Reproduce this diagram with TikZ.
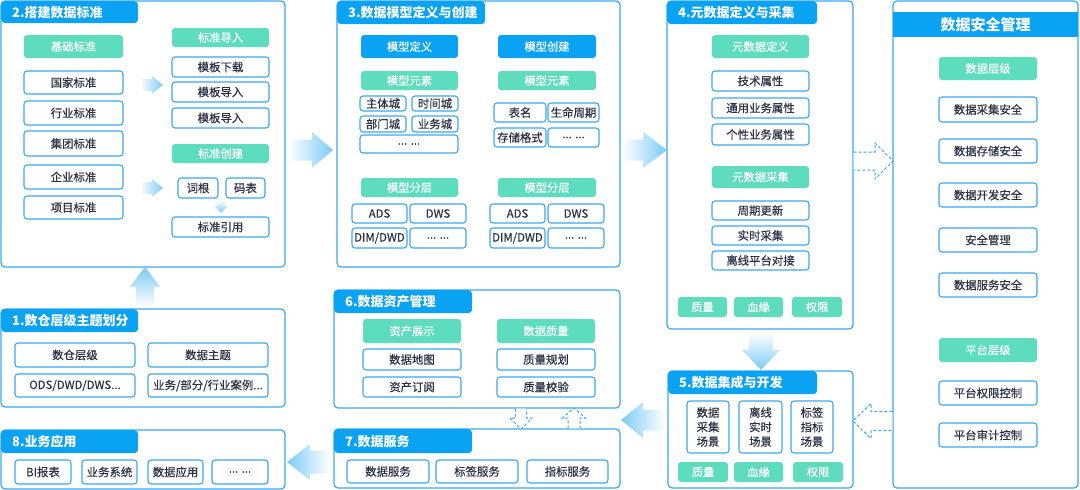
\documentclass[tikz,border=0pt]{standalone}
\usepackage{fontspec}
\setmainfont{Noto Sans CJK SC}
\newfontfamily\medfont{Noto Sans CJK SC}[FakeBold=0.4]
\definecolor{tabc}{HTML}{0AA2F2}
\definecolor{bordc}{HTML}{3AA8F0}
\definecolor{greenc}{HTML}{5EDDBE}
\definecolor{textc}{HTML}{2B3245}
\definecolor{arrowc}{HTML}{7CCBF5}
\newcommand\Bx[7]{\node[#1, minimum width={(#5-#3)*1pt}, minimum height={(#6-#4)*1pt}] (#2) at ({(#3+#5)/2},{(#4+#6)/2}) {#7};}
\newcommand\Tab[6]{\node[tab, anchor=north west, minimum width={(#4-#2)*1pt}, minimum height={(#5-#3)*1pt}, text width={(#4-#2-22)*1pt}] (#1) at (#2,#3) {#6};}
\newcommand\harr[7]{\path[#1] ({#2},{#5-#6}) -- ({#3},{#5-#6}) -- ({#3},{#5-#7}) -- ({#4},{#5}) -- ({#3},{#5+#7}) -- ({#3},{#5+#6}) -- ({#2},{#5+#6});}
\newcommand\varr[7]{\path[#1] ({#5-#6},{#2}) -- ({#5-#6},{#3}) -- ({#5-#7},{#3}) -- ({#5},{#4}) -- ({#5+#7},{#3}) -- ({#5+#6},{#3}) -- ({#5+#6},{#2});}
\begin{document}
\begin{tikzpicture}[x=1pt,y=-1pt,
  panel/.style={draw=bordc, line width=1.2pt, rounded corners=4pt, fill=white, inner sep=0pt},
  tab/.style={fill=tabc, rounded corners=4pt, text=white, inner xsep=11pt, inner ysep=0pt, align=left, font=\bfseries\fontsize{13}{15}\selectfont},
  wbox/.style={draw=bordc, fill=white, rounded corners=3pt, line width=1.1pt, text=textc, inner sep=0pt, font=\medfont\fontsize{11.4}{13}\selectfont},
  gbox/.style={fill=greenc, rounded corners=3pt, text=white, inner sep=0pt, font=\medfont\fontsize{11.3}{13}\selectfont},
  bbox/.style={fill=tabc, rounded corners=3pt, text=white, inner sep=0pt, font=\medfont\fontsize{11.3}{13}\selectfont},
  fatR/.style={left color=white, right color=arrowc},
  fatL/.style={left color=arrowc, right color=white},
  fatU/.style={top color=arrowc, bottom color=white},
  fatD/.style={top color=white, bottom color=arrowc},
  dasharr/.style={draw=bordc, dash pattern=on 3pt off 2pt, line width=1pt, fill=white}
]
\useasboundingbox (0,0) rectangle (1080,490);

% ---------- panels ----------
\Bx{panel}{P2}{1}{1}{285}{267}{}
\Bx{panel}{P3}{337}{1}{620}{267}{}
\Bx{panel}{P4}{667}{1}{853}{329}{}
\Bx{panel}{PS}{893}{1}{1078}{488}{}
\Bx{panel}{P5}{668}{371}{853}{488}{}
\Bx{panel}{P6}{334}{290}{620}{408}{}
\Bx{panel}{P7}{334}{429}{620}{488}{}
\Bx{panel}{P1}{1}{309}{285}{407}{}
\Bx{panel}{P8}{1}{430}{285}{489}{}

% ---------- tabs ----------
\Tab{T2}{1}{1}{138}{23}{2.搭建数据标准}
\Tab{T3}{337}{1}{485}{24}{3.数据模型定义与创建}
\Tab{T4}{667}{1}{817}{24}{4.元数据定义与采集}
\Tab{T6}{334}{290}{472}{313}{6.数据资产管理}
\Tab{T7}{334}{429}{472}{453}{7.数据服务}
\Tab{T1}{1}{309}{138}{332}{1.数仓层级主题划分}
\Tab{T8}{1}{430}{138}{453}{8.业务应用}
\Tab{T5}{668}{371}{817}{394}{5.数据集成与开发}
\node[fill=tabc, minimum width=185pt, minimum height=25pt, inner sep=0pt, text=white, font=\bfseries\fontsize{15}{17}\selectfont] (TS) at (985.5,24.5) {数据安全管理};

% ---------- panel 2 ----------
\Bx{gbox}{jc}{24}{35}{123}{58}{基础标准}
\Bx{wbox}{gj}{24}{71}{123}{94}{国家标准}
\Bx{wbox}{hy}{24}{101}{123}{125}{行业标准}
\Bx{wbox}{jt}{24}{131}{123}{156}{集团标准}
\Bx{wbox}{qy}{24}{165}{123}{189}{企业标准}
\Bx{wbox}{xm}{24}{196}{123}{219}{项目标准}
\Bx{gbox}{drh}{172}{28}{269}{47}{标准导入}
\Bx{wbox}{mbxz}{172}{57}{269}{77}{模板下载}
\Bx{wbox}{mbdr1}{172}{82}{269}{102}{模板导入}
\Bx{wbox}{mbdr2}{172}{108}{269}{128}{模板导入}
\Bx{gbox}{cjh}{172}{144}{269}{163}{标准创建}
\Bx{wbox}{cg}{178}{178}{218}{198}{词根}
\Bx{wbox}{mb}{226}{178}{265}{198}{码表}
\Bx{wbox}{yy}{172}{217}{269}{237}{标准引用}
\harr{fatR}{140}{152}{163}{85}{6}{9}
\harr{fatR}{140}{152}{163}{188}{6}{9}
\varr{fatD}{200}{206}{213}{221}{4}{6.5}

% ---------- panel 3 ----------
\Bx{bbox}{mxdy}{361}{35}{458}{58}{模型定义}
\Bx{bbox}{mxcj}{498}{35}{596}{58}{模型创建}
\Bx{gbox}{ys1}{361}{71}{458}{90}{模型元素}
\Bx{gbox}{ys2}{498}{71}{596}{90}{模型元素}
\Bx{wbox}{ztc}{360}{96}{406}{111}{主体城}
\Bx{wbox}{sjc}{412}{96}{458}{111}{时间城}
\Bx{wbox}{bmc}{360}{116}{406}{132}{部门城}
\Bx{wbox}{ywc}{412}{116}{458}{132}{业务城}
\Bx{wbox}{dd1}{360}{135}{458}{153}{... ...}
\Bx{wbox}{bm}{494}{103}{546}{122}{表名}
\Bx{wbox}{smzq}{548}{103}{599}{122}{生命周期}
\Bx{wbox}{ccgs}{494}{128}{546}{147}{存储格式}
\Bx{wbox}{dd2}{548}{128}{599}{147}{... ...}
\Bx{gbox}{fc1}{361}{178}{458}{197}{模型分层}
\Bx{gbox}{fc2}{498}{178}{596}{197}{模型分层}
\Bx{wbox}{ads1}{352}{204}{407}{223}{ADS}
\Bx{wbox}{dws1}{410}{204}{466}{223}{DWS}
\Bx{wbox}{dim1}{352}{228}{407}{248}{DIM/DWD}
\Bx{wbox}{dd3}{410}{228}{466}{248}{... ...}
\Bx{wbox}{ads2}{490}{204}{545}{223}{ADS}
\Bx{wbox}{dws2}{548}{204}{604}{223}{DWS}
\Bx{wbox}{dim2}{490}{228}{545}{248}{DIM/DWD}
\Bx{wbox}{dd4}{548}{228}{604}{248}{... ...}

% ---------- panel 4 ----------
\Bx{gbox}{ysjdy}{712}{35}{809}{58}{元数据定义}
\Bx{wbox}{jssx}{712}{71}{809}{91}{技术属性}
\Bx{wbox}{tysx}{712}{98}{809}{118}{通用业务属性}
\Bx{wbox}{gxsx}{712}{124}{809}{145}{个性业务属性}
\Bx{gbox}{ysjcj}{712}{166}{809}{188}{元数据采集}
\Bx{wbox}{zqgx}{712}{201}{809}{220}{周期更新}
\Bx{wbox}{sscj}{712}{226}{809}{245}{实时采集}
\Bx{wbox}{lxdj}{712}{251}{809}{270}{离线平台对接}
\Bx{gbox}{zl4}{678}{297}{727}{317}{质量}
\Bx{gbox}{xy4}{734}{297}{783}{317}{血缘}
\Bx{gbox}{qx4}{792}{297}{842}{317}{权限}

% ---------- security ----------
\Bx{gbox}{sjcj}{939}{57}{1037}{80}{数据层级}
\Bx{wbox}{s1}{939}{97}{1037}{122}{数据采集安全}
\Bx{wbox}{s2}{939}{139}{1037}{163}{数据存储安全}
\Bx{wbox}{s3}{939}{183}{1037}{207}{数据开发安全}
\Bx{wbox}{s4}{939}{228}{1037}{252}{安全管理}
\Bx{wbox}{s5}{939}{273}{1037}{297}{数据服务安全}
\Bx{gbox}{ptcj}{939}{338}{1037}{362}{平台层级}
\Bx{wbox}{s6}{939}{381}{1037}{405}{平台权限控制}
\Bx{wbox}{s7}{939}{423}{1037}{447}{平台审计控制}

% ---------- panel 5 ----------
\Bx{wbox, align=center, font=\medfont\fontsize{11.4}{14.5}\selectfont}{cj5}{687}{401}{729}{453}{数据\\采集\\场景}
\Bx{wbox, align=center, font=\medfont\fontsize{11.4}{14.5}\selectfont}{lx5}{739}{401}{782}{453}{离线\\实时\\场景}
\Bx{wbox, align=center, font=\medfont\fontsize{11.4}{14.5}\selectfont}{bq5}{791}{401}{833}{453}{标签\\指标\\场景}
\Bx{gbox}{zl5}{678}{462}{728}{482}{质量}
\Bx{gbox}{xy5}{734}{462}{783}{482}{血缘}
\Bx{gbox}{qx5}{793}{462}{843}{482}{权限}

% ---------- panel 6 ----------
\Bx{gbox}{zczs}{363}{319}{461}{343}{资产展示}
\Bx{gbox}{sjzl}{497}{319}{595}{343}{数据质量}
\Bx{wbox}{sjdt}{363}{349}{461}{370}{数据地图}
\Bx{wbox}{zcdy}{363}{377}{461}{397}{资产订阅}
\Bx{wbox}{zlgh}{497}{349}{595}{370}{质量规划}
\Bx{wbox}{zljy}{497}{377}{595}{397}{质量校验}

% ---------- panel 7 ----------
\Bx{wbox}{sjfw}{347}{460}{429}{483}{数据服务}
\Bx{wbox}{bqfw}{436}{460}{518}{483}{标签服务}
\Bx{wbox}{zbfw}{527}{460}{608}{483}{指标服务}

% ---------- panel 1 ----------
\Bx{wbox}{scj}{15}{343}{135}{367}{数仓层级}
\Bx{wbox}{sjzt}{148}{343}{268}{367}{数据主题}
\Bx{wbox}{ods}{15}{374}{135}{397}{ODS/DWD/DWS...}
\Bx{wbox}{ywal}{148}{374}{268}{397}{业务/部分/行业案例...}

% ---------- panel 8 ----------
\Bx{wbox}{bi}{15}{460}{71}{484}{BI报表}
\Bx{wbox}{ywxt}{82}{460}{137}{484}{业务系统}
\Bx{wbox}{sjyy}{148}{460}{203}{484}{数据应用}
\Bx{wbox}{dd8}{212}{460}{268}{484}{... ...}

% ---------- fat arrows ----------
\harr{fatR}{288}{312}{333}{150}{10.5}{18}
\harr{fatR}{622}{643}{667}{150}{10.5}{18}
\varr{fatU}{307}{287}{267}{145}{9}{15.5}
\varr{fatD}{333}{350}{370}{761}{12}{19}
\harr{fatL}{665}{643}{621}{420}{10.5}{18}
\harr{fatL}{330}{310}{287}{462}{11.5}{18}

% ---------- dashed arrows ----------
\harr{dasharr}{853.6}{875}{893}{161}{9}{18}
\harr{dasharr}{892.4}{871}{853}{421}{9.5}{17.5}
\varr{dasharr}{408.6}{418}{429}{521}{5.5}{11}
\varr{dasharr}{428.4}{418}{408}{574}{6}{11.5}
\end{tikzpicture}
\end{document}
